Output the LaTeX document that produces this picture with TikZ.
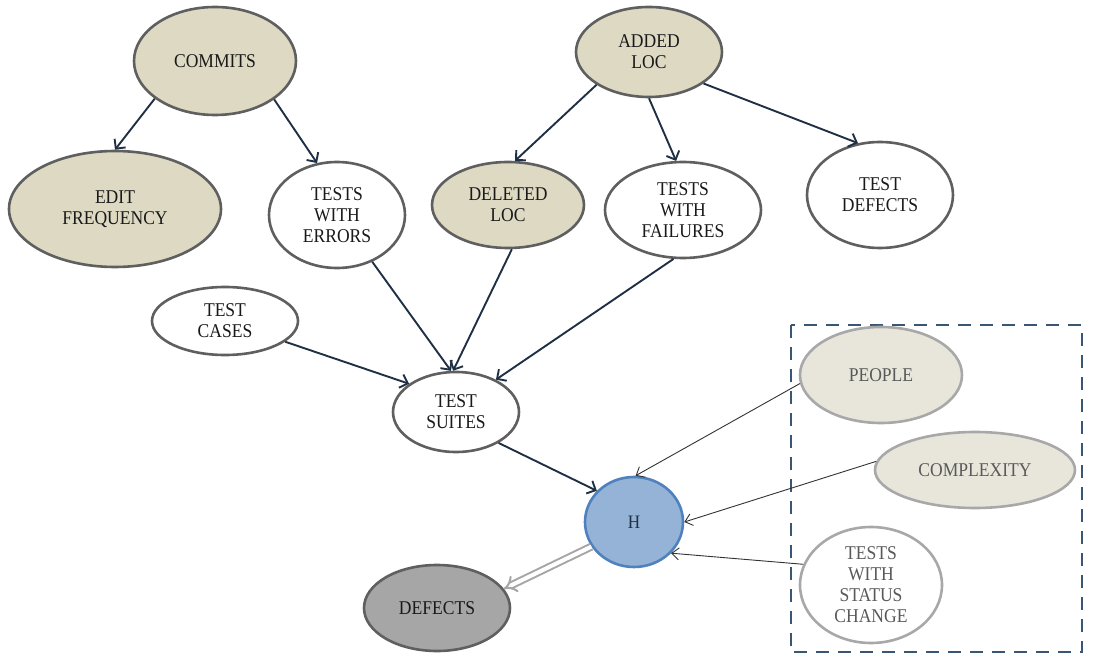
\documentclass[tikz,border=0pt]{standalone}
\usepackage{fontspec}
\setmainfont{Liberation Serif}[FakeStretch=0.9]
\usetikzlibrary{shapes.geometric,arrows.meta}
\definecolor{tanfill}{HTML}{DDD9C3}
\definecolor{softfill}{HTML}{E8E6DB}
\definecolor{rimgray}{HTML}{5F5F5F}
\definecolor{softrim}{HTML}{A8A8A8}
\definecolor{softtext}{HTML}{595959}
\definecolor{navyline}{HTML}{1F3044}
\definecolor{hfill}{HTML}{95B3D7}
\definecolor{hrim}{HTML}{4F81BD}
\definecolor{boxline}{HTML}{3A5675}
\begin{document}
\begin{tikzpicture}[x=1pt,y=-1pt,
  base/.style={ellipse, inner sep=0pt, align=center,
    font=\fontsize{19.5}{21}\selectfont, line width=2.6pt},
  darknode/.style={base, draw=rimgray, text=black!90},
  tannode/.style={darknode, fill=tanfill},
  plainnode/.style={darknode, fill=white},
  softnode/.style={base, draw=softrim, text=softtext},
  link/.style={draw=navyline, line width=1.9pt,
    -{Straight Barb[length=7pt,width=14pt]}},
  thinlink/.style={draw=black!80, line width=0.9pt,
    -{Straight Barb[length=7pt,width=12pt]}},
  outlink/.style={draw=black!35, line width=2pt, double=white,
    double distance=4pt, -{Implies}}
]
\useasboundingbox (0,0) rectangle (1096,655);

% upper cause nodes
\node[tannode, minimum width=162pt, minimum height=108pt] (commits) at (215,61) {COMMITS};
\node[tannode, minimum width=212pt, minimum height=116pt] (edit) at (115,209) {EDIT\\FREQUENCY};
\node[plainnode, minimum width=136pt, minimum height=106pt] (twe) at (337,215) {TESTS\\WITH\\ERRORS};
\node[tannode, minimum width=152pt, minimum height=86pt] (deleted) at (508,205) {DELETED\\LOC};
\node[tannode, minimum width=146pt, minimum height=90pt] (added) at (649,52) {ADDED\\LOC};
\node[plainnode, minimum width=156pt, minimum height=96pt] (twf) at (683,210) {TESTS\\WITH\\FAILURES};
\node[plainnode, minimum width=146pt, minimum height=106pt] (tdef) at (880,195) {TEST\\DEFECTS};
\node[plainnode, minimum width=146pt, minimum height=68pt] (tcases) at (225,321) {TEST\\CASES};
\node[plainnode, minimum width=126pt, minimum height=80pt] (tsuites) at (456,412) {TEST\\SUITES};

% hidden factor and outcome
\node[base, draw=hrim, fill=hfill, text=navyline, font=\fontsize{19}{21}\selectfont,
      minimum width=98pt, minimum height=90pt] (h) at (634,522) {H};
\node[darknode, fill=black!35, minimum width=146pt, minimum height=86pt] (defects) at (437,608) {DEFECTS};

% unobserved group
\draw[boxline, line width=2.8pt, dash pattern=on 13pt off 9pt] (791,325) rectangle (1082,652);
\node[softnode, fill=softfill, minimum width=162pt, minimum height=96pt] (people) at (881,375) {PEOPLE};
\node[softnode, fill=softfill, minimum width=200pt, minimum height=76pt] (complexity) at (975,470) {COMPLEXITY};
\node[softnode, fill=white, minimum width=142pt, minimum height=116pt] (tsc) at (871,585) {TESTS\\WITH\\STATUS\\CHANGE};

% connectors
\draw[link] (commits.212) -- (edit.90);
\draw[link] (commits.327) -- (twe.111);
\draw[link] (added.212) -- (deleted.81);
\draw[link] (added.270) -- (twf.98);
\draw[link] (added.330) -- (tdef.113);
\draw[link] (twe.307) -- (tsuites.97);
\draw[link] (deleted.275) -- (tsuites.94);
\draw[link] (twf.259) -- (tsuites.39);
\draw[link] (tcases.341) -- (tsuites.149);
\draw[link] (tsuites.324) -- (h.140);
\draw[thinlink] (people.186) -- (h.88);
\draw[thinlink] (complexity.175) -- (h.0);
\draw[thinlink] (tsc.163) -- (h.320);
\draw[outlink] (h.210) -- (defects.16);
\end{tikzpicture}
\end{document}
